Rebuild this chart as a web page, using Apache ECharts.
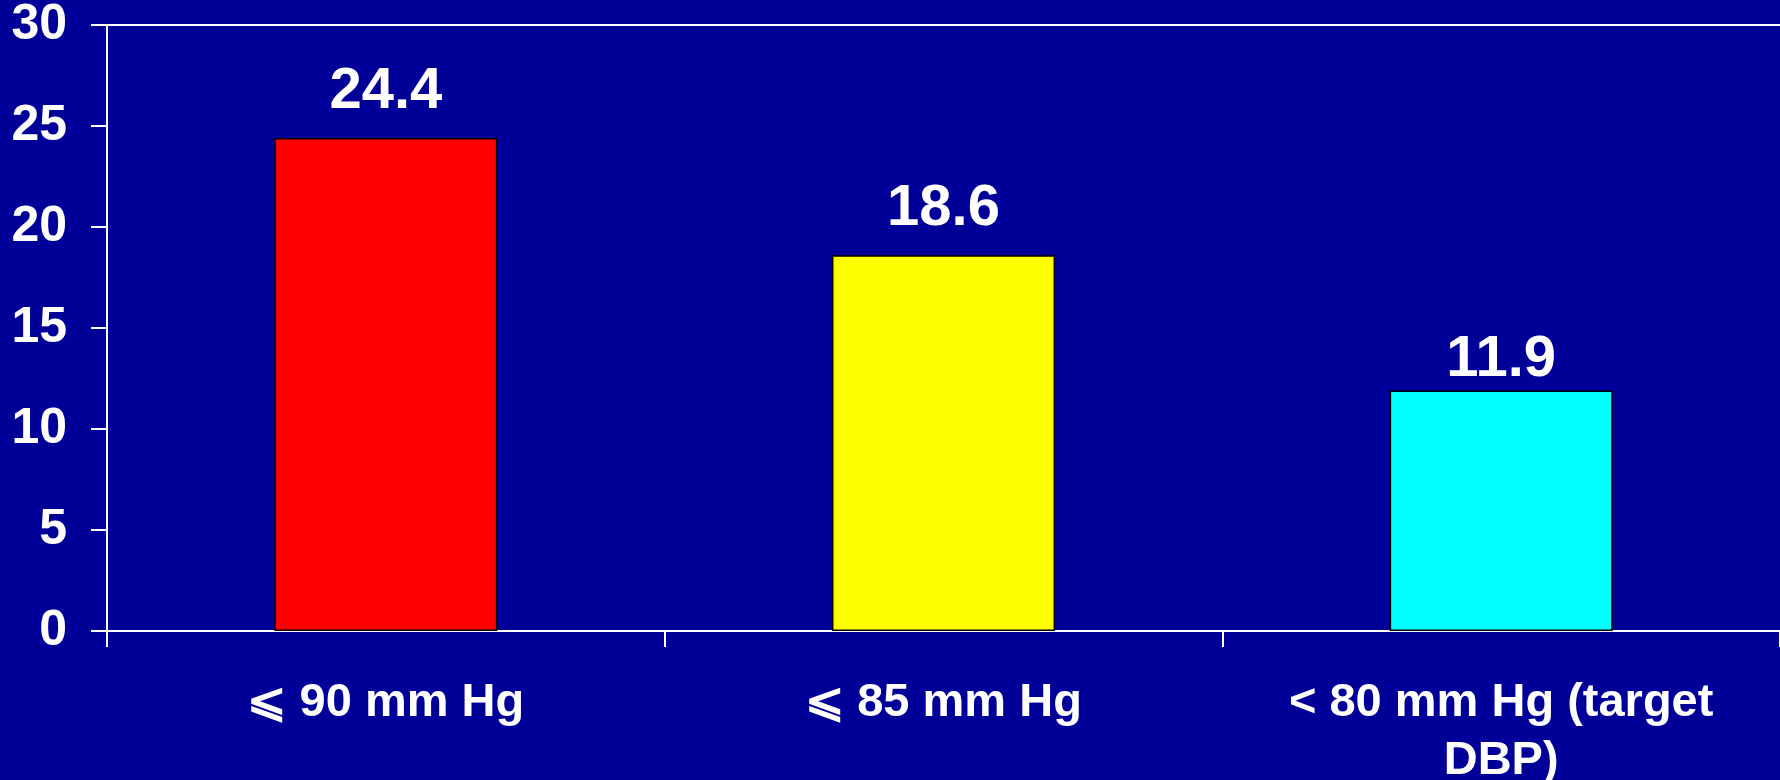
<!DOCTYPE html>
<html>
<head>
<meta charset="utf-8">
<script src="https://cdn.jsdelivr.net/npm/echarts@6/dist/echarts.min.js"></script>
<style>
html,body{margin:0;padding:0;background:#000099;}
#chart{width:1780px;height:780px;}
</style>
</head>
<body>
<div id="chart"></div>
<script>
var categories = ['\u2A7D 90 mm Hg', '\u2A7D 85 mm Hg', '< 80 mm Hg (target\nDBP)'];
var values = [24.4, 18.6, 11.9];
var barColors = ['#FF0000', '#FFFF00', '#00FFFF'];
var yTicks = [0, 5, 10, 15, 20, 25, 30];
var labelGaps = [17, 17, 2];

var chart = echarts.init(document.getElementById('chart'));
var font = 'Liberation Sans, Arial, sans-serif';
chart.setOption({
  backgroundColor: '#000099',
  animation: false,
  grid: {left: 107, right: 0, top: 25, bottom: 149, containLabel: false, outerBoundsMode: 'none'},
  xAxis: [{
    type: 'category',
    data: categories,
    axisLine: {show: true, lineStyle: {color: '#ffffff', width: 2}},
    axisTick: {show: true, length: 16, lineStyle: {color: '#ffffff', width: 2}},
    axisLabel: {
      color: '#ffffff', fontFamily: font, fontWeight: 'bold', fontSize: 47,
      margin: 43, lineHeight: 58, interval: 0
    }
  }, {
    type: 'category',
    position: 'top',
    data: categories,
    axisLine: {show: true, lineStyle: {color: '#ffffff', width: 2}},
    axisTick: {show: false},
    axisLabel: {show: false}
  }],
  yAxis: {
    type: 'value',
    min: yTicks[0],
    max: yTicks[yTicks.length - 1],
    interval: 5,
    axisLine: {show: true, lineStyle: {color: '#ffffff', width: 2}},
    axisTick: {show: true, length: 16, lineStyle: {color: '#ffffff', width: 2}},
    splitLine: {show: false},
    axisLabel: {
      color: '#ffffff', fontFamily: font, fontWeight: 'bold', fontSize: 50, margin: 40
    }
  },
  series: [{
    type: 'bar',
    xAxisIndex: 0,
    barWidth: '40%',
    data: values.map(function (v, i) {
      return {value: v, itemStyle: {color: barColors[i]}, label: {distance: labelGaps[i]}};
    }),
    itemStyle: {borderColor: '#000000', borderWidth: 1.5},
    label: {
      show: true, position: 'top',
      color: '#ffffff', fontFamily: font, fontWeight: 'bold', fontSize: 58
    }
  }]
});
</script>
</body>
</html>
